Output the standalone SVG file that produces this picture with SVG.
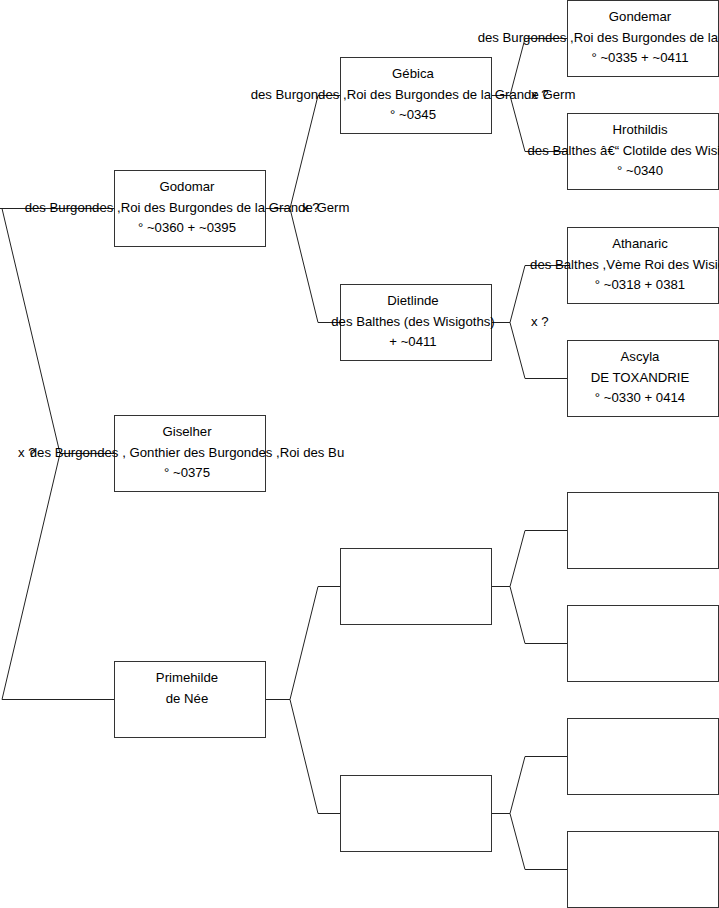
<svg xmlns="http://www.w3.org/2000/svg" width="719" height="908" viewBox="0 0 719 908">
<style>
.box{fill:#fff;stroke:#333;stroke-width:1}
.con{fill:none;stroke:#222;stroke-width:1}
text{font-family:"Liberation Sans",Arial,sans-serif;font-size:13.2px;fill:#000}
.t{text-anchor:middle}
</style>
<rect width="719" height="908" fill="#fff"/>
<g id="connectors">
<path class="con" d="M0,208.5H114.5M2,208.5L60,453.5L2,699.5H114.5M60,453.5H114.5"/>
<path class="con" d="M265.5,208.5H290L318,95.5H340.5M290,208.5L318,322.5H340.5"/>
<path class="con" d="M265.5,699.5H290L318,586.5H340.5M290,699.5L318,813.5H340.5"/>
<path class="con" d="M491.5,95.5H510L525,38.5H567.5M510,95.5L525,151.5H567.5"/>
<path class="con" d="M491.5,322.5H510L525,265.5H567.5M510,322.5L525,378.5H567.5"/>
<path class="con" d="M491.5,586.5H510L525,530.5H567.5M510,586.5L525,643.5H567.5"/>
<path class="con" d="M491.5,813.5H510L525,756.5H567.5M510,813.5L525,869.5H567.5"/>
</g>
<g id="godomar"><rect class="box" x="114.5" y="170.5" width="151" height="76"/>
<text class="t" x="187" y="191">Godomar</text>
<text class="t" x="187" y="212">des Burgondes ,Roi des Burgondes de la Grande Germ</text>
<text class="t" x="187" y="232">° ~0360 + ~0395</text></g>
<g id="giselher"><rect class="box" x="114.5" y="415.5" width="151" height="76"/>
<text class="t" x="187" y="436">Giselher</text>
<text class="t" x="187" y="457">des Burgondes , Gonthier des Burgondes ,Roi des Bu</text>
<text class="t" x="187" y="477">° ~0375</text></g>
<g id="primehilde"><rect class="box" x="114.5" y="661.5" width="151" height="76"/>
<text class="t" x="187" y="682">Primehilde</text>
<text class="t" x="187" y="703">de Née</text></g>
<g id="gebica"><rect class="box" x="340.5" y="57.5" width="151" height="76"/>
<text class="t" x="413" y="78">Gébica</text>
<text class="t" x="413" y="99">des Burgondes ,Roi des Burgondes de la Grande Germ</text>
<text class="t" x="413" y="119">° ~0345</text></g>
<g id="dietlinde"><rect class="box" x="340.5" y="284.5" width="151" height="76"/>
<text class="t" x="413" y="305">Dietlinde</text>
<text class="t" x="413" y="326">des Balthes (des Wisigoths)</text>
<text class="t" x="413" y="346">+ ~0411</text></g>
<g id="empty2a"><rect class="box" x="340.5" y="548.5" width="151" height="76"/></g>
<g id="empty2b"><rect class="box" x="340.5" y="775.5" width="151" height="76"/></g>
<g id="gondemar"><rect class="box" x="567.5" y="0.5" width="151" height="76"/>
<text class="t" x="640" y="21">Gondemar</text>
<text class="t" x="640" y="42">des Burgondes ,Roi des Burgondes de la Grande Germ</text>
<text class="t" x="640" y="62">° ~0335 + ~0411</text></g>
<g id="hrothildis"><rect class="box" x="567.5" y="113.5" width="151" height="76"/>
<text class="t" x="640" y="134">Hrothildis</text>
<text class="t" x="640" y="155">des Balthes &#226;&#8364;&#8220; Clotilde des Wisigoths</text>
<text class="t" x="640" y="175">° ~0340</text></g>
<g id="athanaric"><rect class="box" x="567.5" y="227.5" width="151" height="76"/>
<text class="t" x="640" y="248">Athanaric</text>
<text class="t" x="640" y="269">des Balthes ,Vème Roi des Wisigoths</text>
<text class="t" x="640" y="289">° ~0318 + 0381</text></g>
<g id="ascyla"><rect class="box" x="567.5" y="340.5" width="151" height="76"/>
<text class="t" x="640" y="361">Ascyla</text>
<text class="t" x="640" y="382">DE TOXANDRIE</text>
<text class="t" x="640" y="402">° ~0330 + 0414</text></g>
<g id="empty3a"><rect class="box" x="567.5" y="492.5" width="151" height="76"/></g>
<g id="empty3b"><rect class="box" x="567.5" y="605.5" width="151" height="76"/></g>
<g id="empty3c"><rect class="box" x="567.5" y="718.5" width="151" height="76"/></g>
<g id="empty3d"><rect class="box" x="567.5" y="831.5" width="151" height="76"/></g>
<g id="labels">
<text x="18" y="457">x ?</text>
<text x="302" y="212">x ?</text>
<text x="531" y="99">x ?</text>
<text x="531" y="326">x ?</text>
</g>
</svg>
